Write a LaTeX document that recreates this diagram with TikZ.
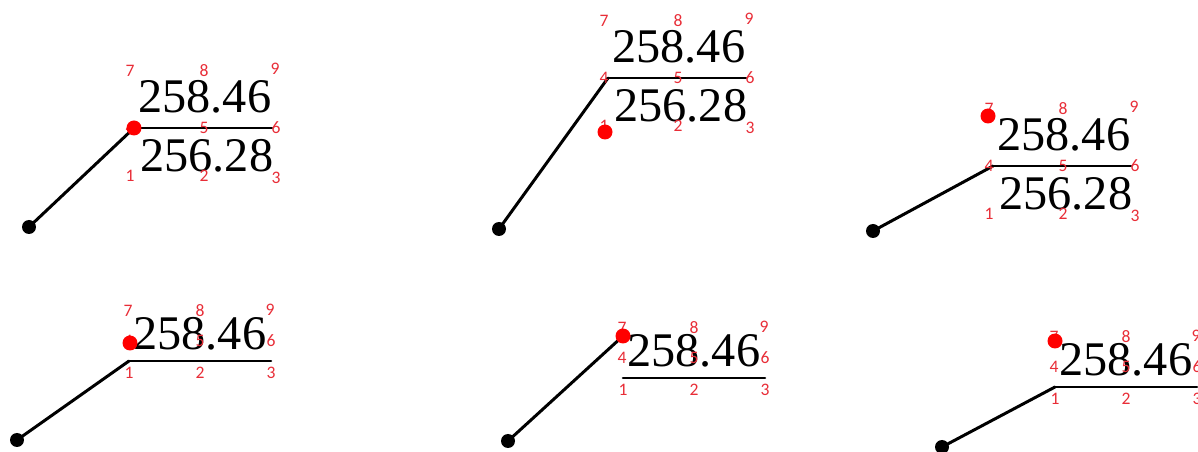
\documentclass[tikz,border=0pt]{standalone}
\usepackage{fontspec}
\setmainfont{Liberation Serif}
\newfontfamily\tagfont{Carlito}
\definecolor{tagred}{RGB}{232,45,55}
\begin{document}
\begin{tikzpicture}[x=0.02cm,y=-0.02cm,declare function={Ltwo=138; Lone=142;},line join=round,line cap=round,
	value/.style={font=\fontsize{27.5}{29}\selectfont,inner sep=0pt,anchor=base west},
	tag/.style={font=\tagfont\fontsize{10}{11}\selectfont,text=tagred,inner sep=0pt},
	leader/.style={line width=1.7pt},
	rule/.style={line width=1.5pt},
	pin/.style={fill=red},
	foot/.style={fill=black}]
	\clip (0,0) rectangle (1198,452);
	% two-line labels
	\foreach \n/\x/\y/\bx/\by/\rx/\ry/\t in {a/134/128/29/227/0/0/start, b/608/78/499/229/-3/54/start, c/993/166/873/231/-5/-50/start}{
		\coordinate (\n-start) at (\x,\y);
		\coordinate (\n-end) at (\x+Ltwo,\y);
		\coordinate (\n-foot) at (\bx,\by);
		\coordinate (\n-pin) at (\x+\rx,\y+\ry);
		\draw[rule] (\n-start) -- (\n-end);
		\draw[leader] (\n-foot) -- (\n-\t);
		\node[value] (\n-top) at (\x+4,\y-15) {258.46};
		\node[value] (\n-bot) at (\x+6,\y+44) {256.28};
		\foreach \k/\dx/\dy in {7/-4/-57,8/70/-57,9/141/-59,4/-4/0,5/70/0,6/142/0,1/-4/48,2/70/48,3/142/50}
			\node[tag] (\n-\k) at (\x+\dx,\y+\dy) {\k};
		\fill[pin] (\n-pin) circle (0.15cm);
		\fill[foot] (\n-foot) circle (0.14cm);
	}
	% one-line labels
	\foreach \n/\x/\y/\bx/\by/\rx/\ry/\t in {d/129/361/17/440/1/-18/start, e/623/378/508/441/0/-42/pin, f/1055/387/942/447/0/-46/start}{
		\coordinate (\n-start) at (\x,\y);
		\coordinate (\n-end) at (\x+Lone,\y);
		\coordinate (\n-foot) at (\bx,\by);
		\coordinate (\n-pin) at (\x+\rx,\y+\ry);
		\draw[rule] (\n-start) -- (\n-end);
		\draw[leader] (\n-foot) -- (\n-\t);
		\node[value] (\n-top) at (\x+4,\y-11) {258.46};
		\foreach \k/\dx/\dy in {7/-1/-50,8/71/-50,9/141/-51,4/-1/-20,5/71/-20,6/142/-20,1/0/12,2/71/12,3/142/12}
			\node[tag] (\n-\k) at (\x+\dx,\y+\dy) {\k};
		\fill[pin] (\n-pin) circle (0.15cm);
		\fill[foot] (\n-foot) circle (0.14cm);
	}
\end{tikzpicture}
\end{document}
